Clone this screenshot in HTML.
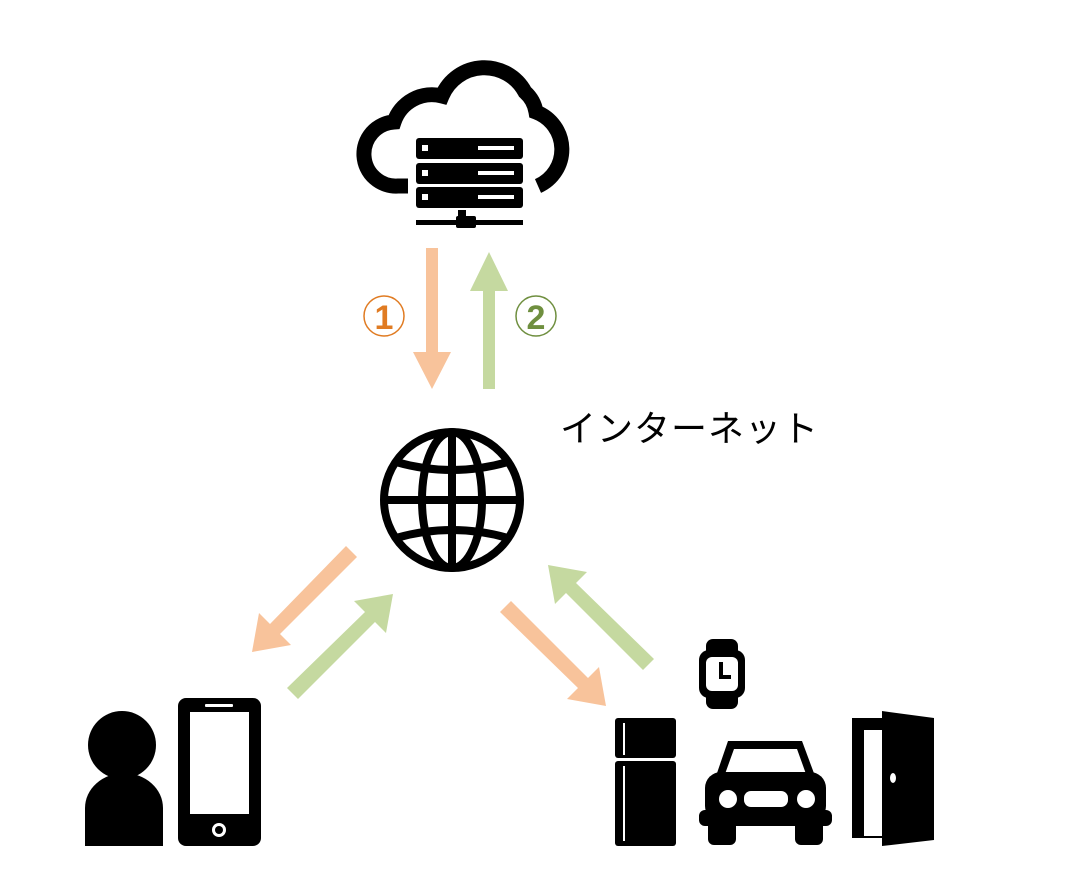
<!DOCTYPE html><html><head><meta charset="utf-8"><style>body{margin:0;background:#fff}svg{display:block}</style></head><body>
<svg width="1065" height="876" viewBox="0 0 1065 876" xmlns="http://www.w3.org/2000/svg">
<!-- cloud -->
<path d="M412,186 H398 A32,32 0 0 1 394,122 A40,40 0 0 1 442,96 A46,46 0 0 1 525,92 A34,34 0 0 1 536,112 A40,40 0 0 1 538,186" fill="none" stroke="#000" stroke-width="15"/>
<rect x="408" y="130" width="125" height="90" fill="#fff"/>
<g fill="#000">
<rect x="416" y="138" width="107" height="21" rx="3"/><rect x="416" y="163" width="107" height="21" rx="3"/><rect x="416" y="187" width="107" height="21" rx="3"/>
<rect x="416" y="220" width="107" height="5"/><rect x="458" y="210" width="8" height="10"/><rect x="456" y="216" width="20" height="12" rx="2"/>
</g>
<g fill="#fff"><rect x="422" y="145" width="6" height="6"/><rect x="422" y="170" width="6" height="6"/><rect x="422" y="194" width="6" height="6"/>
<rect x="478" y="146" width="36" height="4"/><rect x="478" y="171" width="36" height="4"/><rect x="478" y="195" width="36" height="4"/></g>
<!-- vertical arrows -->
<polygon points="426,248 438,248 438,352 451,352 432,389 413,352 426,352" fill="#f8c39b"/>
<polygon points="483,389 495,389 495,291 508,291 489,252 470,291 483,291" fill="#c5d9a0"/>
<circle cx="384" cy="316" r="20" fill="none" stroke="#e07b22" stroke-width="1.5"/>
<text x="384" y="329" font-family="Liberation Sans,sans-serif" font-weight="bold" font-size="34" fill="#e07b22" text-anchor="middle">1</text>
<circle cx="536" cy="316" r="20" fill="none" stroke="#6f8f3f" stroke-width="1.5"/>
<text x="536" y="329" font-family="Liberation Sans,sans-serif" font-weight="bold" font-size="34" fill="#6f8f3f" text-anchor="middle">2</text>
<text x="560" y="441" font-family="Liberation Sans,'Noto Sans CJK JP',sans-serif" font-size="36" letter-spacing="1" fill="#000">インターネット</text>
<!-- globe -->
<g fill="none" stroke="#000" stroke-width="8">
<circle cx="452" cy="500" r="68"/>
<ellipse cx="452" cy="500" rx="30" ry="68"/>
<line x1="452" y1="432" x2="452" y2="568"/>
<line x1="384" y1="500" x2="520" y2="500"/>
<path d="M396,462 Q452,478 508,462"/><path d="M396,538 Q452,522 508,538"/>
</g>
<!-- diagonal arrows -->
<g>
<polygon points="346,546 357,557 280,634 291,645 252,652 259,613 270,624" fill="#f8c39b"/>
<polygon points="287,688 298,699 375,622 386,633 393,594 354,601 365,612" fill="#c5d9a0"/>
<polygon points="500,612 511,601 588,678 599,667 606,706 567,699 578,688" fill="#f8c39b"/>
<polygon points="654,659 643,670 566,593 555,604 548,565 587,572 576,583" fill="#c5d9a0"/>
</g>
<!-- person -->
<circle cx="122" cy="745" r="34" fill="#000"/>
<path d="M85,846 V808 A38,34 0 0 1 163,808 V846 Z" fill="#000"/>
<rect x="178" y="698" width="83" height="148" rx="8" fill="#000"/>
<rect x="190" y="712" width="59" height="102" fill="#fff"/>
<rect x="205" y="704" width="28" height="3" rx="1" fill="#fff"/>
<circle cx="219" cy="830" r="7" fill="#fff"/><circle cx="219" cy="830" r="4" fill="#000"/>
<!-- fridge -->
<rect x="615" y="718" width="61" height="40" rx="3" fill="#000"/>
<rect x="615" y="761" width="61" height="85" rx="3" fill="#000"/>
<rect x="623" y="723" width="2" height="32" fill="#fff"/><rect x="623" y="766" width="2" height="75" fill="#fff"/>
<!-- watch -->
<rect x="706" y="639" width="32" height="70" rx="7" fill="#000"/>
<rect x="699" y="650" width="46" height="48" rx="10" fill="#000"/>
<rect x="706" y="657" width="32" height="34" rx="6" fill="#fff"/>
<path d="M721,662 V677 H731" fill="none" stroke="#000" stroke-width="4"/>
<!-- car -->
<path d="M728,741 H802 L815,776 H716 Z" fill="#000"/>
<path d="M734,749 H797 L806,774 H725 Z" fill="#fff"/>
<rect x="705" y="772" width="121" height="50" rx="16" fill="#000"/>
<rect x="699" y="810" width="133" height="16" rx="6" fill="#000"/>
<rect x="708" y="820" width="28" height="25" rx="6" fill="#000"/><rect x="795" y="820" width="28" height="25" rx="6" fill="#000"/>
<circle cx="728" cy="799" r="9" fill="#fff"/><circle cx="806" cy="799" r="9" fill="#fff"/>
<rect x="744" y="791" width="44" height="16" rx="7" fill="#fff"/>
<!-- door -->
<rect x="852" y="718" width="30" height="120" fill="#000"/>
<rect x="864" y="730" width="18" height="106" fill="#fff"/>
<polygon points="882,711 934,718 934,840 882,846" fill="#000"/>
<ellipse cx="893" cy="778" rx="3" ry="5" fill="#fff"/>
</svg>
</body></html>
